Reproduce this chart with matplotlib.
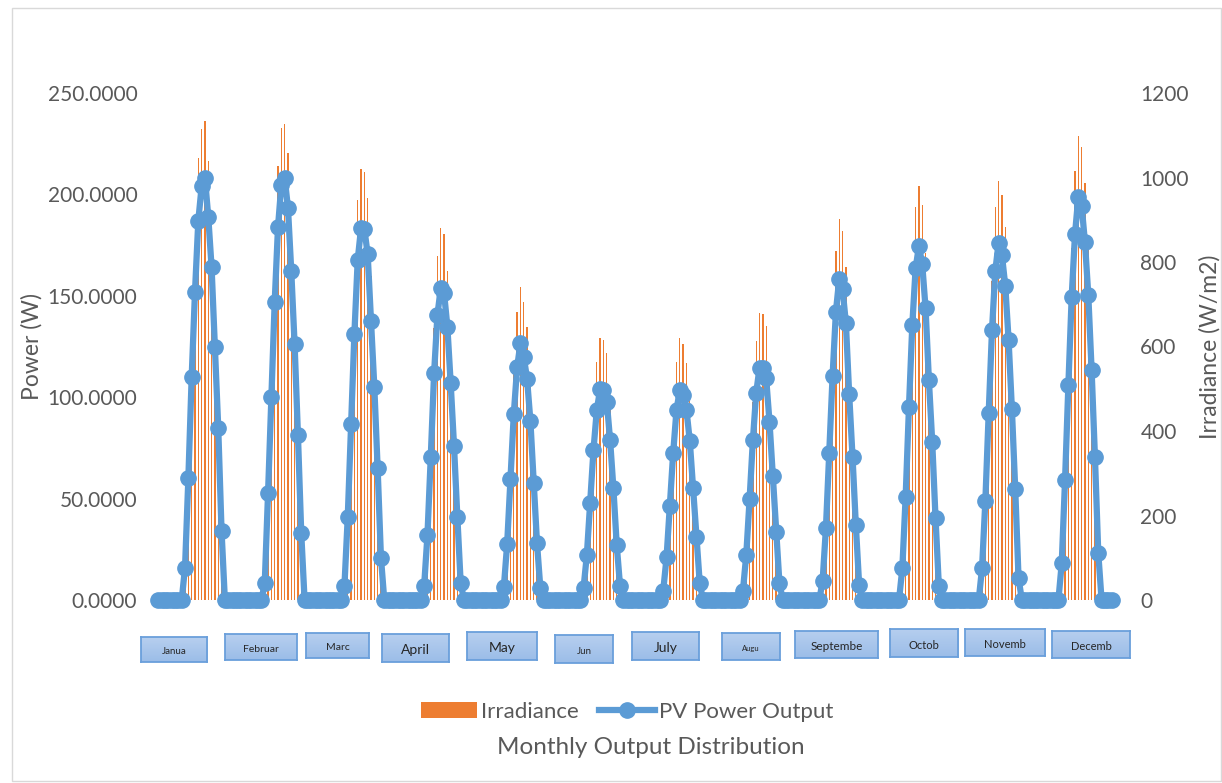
import numpy as np
import matplotlib.pyplot as plt
from matplotlib.patches import Patch, Rectangle
from matplotlib.lines import Line2D
from matplotlib.colors import LinearSegmentedColormap

plt.rcParams['font.family'] = ['Lato', 'DejaVu Sans']

# hourly values, daytime hours 8..19 of a typical day per month (night = 0)
day_start = 8
month_labels = ["Janua", "Februar", "Marc", "April", "May", "Jun",
                "July", "Augu", "Septembe", "Octob", "Novemb", "Decemb"]

pv_power = [
    [16, 60, 110, 152, 187, 204, 208, 189, 164, 125, 85, 34],
    [8.2, 52.7, 100.3, 147, 184, 204.6, 208.2, 193.4, 162, 126, 81.4, 32.9],
    [6.9, 41, 86.6, 131.3, 167.7, 183.3, 183, 170.5, 137.7, 105.2, 65, 20.9],
    [6.9, 32, 70.7, 111.8, 140.5, 153.7, 151.5, 134.8, 106.8, 76.1, 41.1, 8.6],
    [6.2, 27.6, 59.7, 91.7, 114.7, 126.6, 120, 109, 88.3, 57.8, 27.9, 5.8],
    [5.8, 22.2, 48, 74, 93.7, 103.9, 103.5, 97.8, 78.9, 55, 27.1, 6.9],
    [4.6, 21, 46.4, 72.6, 93.7, 103.6, 101, 93.7, 78.4, 55, 30.9, 8.2],
    [4.6, 22.2, 49.6, 78.9, 102.2, 114.6, 114.6, 109.3, 87.9, 61.1, 33.7, 8.2],
    [9.5, 35.7, 72.6, 110.6, 142.2, 158.3, 153.2, 136.7, 101.4, 70.7, 37, 7.4],
    [15.6, 51, 95.3, 135.6, 163.5, 174.6, 165.5, 143.8, 108.5, 78.1, 40.3, 6.9],
    [15.6, 48.8, 92, 133, 162.4, 176.2, 170, 155, 128.2, 94, 54.6, 10.7],
    [18.1, 59.2, 106, 149.6, 180.5, 198.9, 194.3, 176.4, 150.4, 113.4, 70.7, 23.3],
]

irradiance = [
    [88, 330, 605, 836, 1046, 1115, 1134, 1039, 902, 688, 468, 187],
    [45, 289, 550, 806, 1027, 1116, 1127, 1057, 888, 690, 446, 180],
    [39, 229, 483, 733, 947, 1019, 1012, 951, 768, 587, 363, 117],
    [40, 184, 407, 643, 814, 880, 866, 779, 614, 438, 236, 49],
    [37, 163, 352, 541, 682, 742, 706, 645, 521, 341, 165, 34],
    [35, 133, 287, 442, 564, 619, 615, 585, 471, 328, 162, 41],
    [28, 126, 278, 436, 564, 619, 606, 562, 470, 330, 185, 49],
    [27, 132, 295, 469, 614, 680, 677, 649, 523, 364, 201, 49],
    [55, 205, 417, 636, 826, 902, 873, 787, 583, 407, 213, 43],
    [88, 289, 540, 769, 931, 980, 935, 822, 615, 443, 229, 39],
    [88, 277, 522, 754, 929, 992, 959, 884, 727, 533, 310, 61],
    [101, 330, 590, 833, 1015, 1099, 1073, 988, 838, 632, 394, 130],
]

# label boxes under the axis: (left, top, right, bottom) in pixels, font size
label_boxes = [
    (141, 637, 207, 662, 7), (225, 634, 297, 660, 7.5), (306, 633, 369, 658, 7.5),
    (382, 634, 449, 662, 10), (467, 632, 537, 660, 10), (555, 635, 613, 663, 7),
    (632, 632, 699, 660, 10), (722, 633, 780, 660, 5.5), (795, 631, 878, 658, 8.5),
    (890, 629, 958, 657, 8), (965, 629, 1045, 656, 8), (1052, 631, 1130, 658, 8),
]

power = np.zeros((12, 24))
irr = np.zeros((12, 24))
for m in range(12):
    power[m, day_start:day_start + 12] = pv_power[m]
    irr[m, day_start:day_start + 12] = irradiance[m]
power = power.ravel()
irr = irr.ravel()
x = np.arange(len(power))

W, H = 1222, 783
fig = plt.figure(figsize=(W / 100, H / 100), dpi=100)
ax = fig.add_axes([156.8 / W, 1 - 600 / H, 956.4 / W, 507 / H])
ax2 = ax.twinx()

grey = '#595959'
blue = '#5B9BD5'
orange = '#ED7D31'

ax2.bar(x, irr, width=0.4, color=orange, linewidth=0)
ax.plot(x, power, color=blue, lw=4.5, marker='o', markersize=11,
        markerfacecolor=blue, markeredgecolor=blue, solid_joinstyle='round',
        clip_on=False)

ax.set_zorder(ax2.get_zorder() + 1)
ax.patch.set_visible(False)

ax.set_xlim(-0.5, len(power) - 0.5)
ax.set_ylim(0, 250)
ax2.set_ylim(0, 1200)
ax.set_yticks(np.arange(0, 251, 50))
ax.set_yticklabels(['%.4f' % v for v in np.arange(0, 251, 50)])
ax2.set_yticks(np.arange(0, 1201, 200))
ax.set_xticks([])

for a in (ax, ax2):
    for s in a.spines.values():
        s.set_visible(False)
ax.tick_params(axis='y', length=0, pad=14, labelsize=15, labelcolor=grey)
ax2.tick_params(axis='y', length=0, pad=19.5, labelsize=15, labelcolor=grey)

ax.set_ylabel('Power (W)', fontsize=16.5, color=grey)
ax.yaxis.set_label_coords(-0.119, 0.5)
ax2.set_ylabel('Irradiance (W/m2)', fontsize=16.5, color=grey)
ax2.yaxis.set_label_coords(1.0897, 0.5)

# month label boxes with a light blue gradient
grad = np.linspace(0, 1, 50).reshape(-1, 1)
box_cmap = LinearSegmentedColormap.from_list('box', ['#B7CFEF', '#9BBDE8'])
for (l, t, r, b, fs), name in zip(label_boxes, month_labels):
    bx = fig.add_axes([l / W, 1 - b / H, (r - l) / W, (b - t) / H])
    bx.imshow(grad, aspect='auto', cmap=box_cmap, extent=[0, 1, 0, 1])
    bx.set_xticks([])
    bx.set_yticks([])
    for s in bx.spines.values():
        s.set_color('#6A9FDB')
        s.set_linewidth(1.3)
    bx.text(0.5, 0.42, name, ha='center', va='center', fontsize=fs,
            color='#262626', transform=bx.transAxes)

handles = [Patch(facecolor=orange, edgecolor='none'),
           Line2D([], [], color=blue, lw=4.5, marker='o', markersize=11)]
fig.legend(handles, ['Irradiance', 'PV Power Output'], loc='center',
           bbox_to_anchor=(627.5 / W, 1 - 712 / H), ncol=2, frameon=False,
           fontsize=16, labelcolor=grey, handlelength=2.5,
           handletextpad=0.2, columnspacing=0.9)
fig.text(651 / W, 1 - 748 / H, 'Monthly Output Distribution', ha='center',
         va='center', fontsize=17.5, color=grey)

fig.patches.append(Rectangle((12 / W, 1 - 781 / H), 1209 / W, 773 / H,
                             transform=fig.transFigure, fill=False,
                             edgecolor='#D9D9D9', lw=1))

fig.savefig('out.png', dpi=100)
